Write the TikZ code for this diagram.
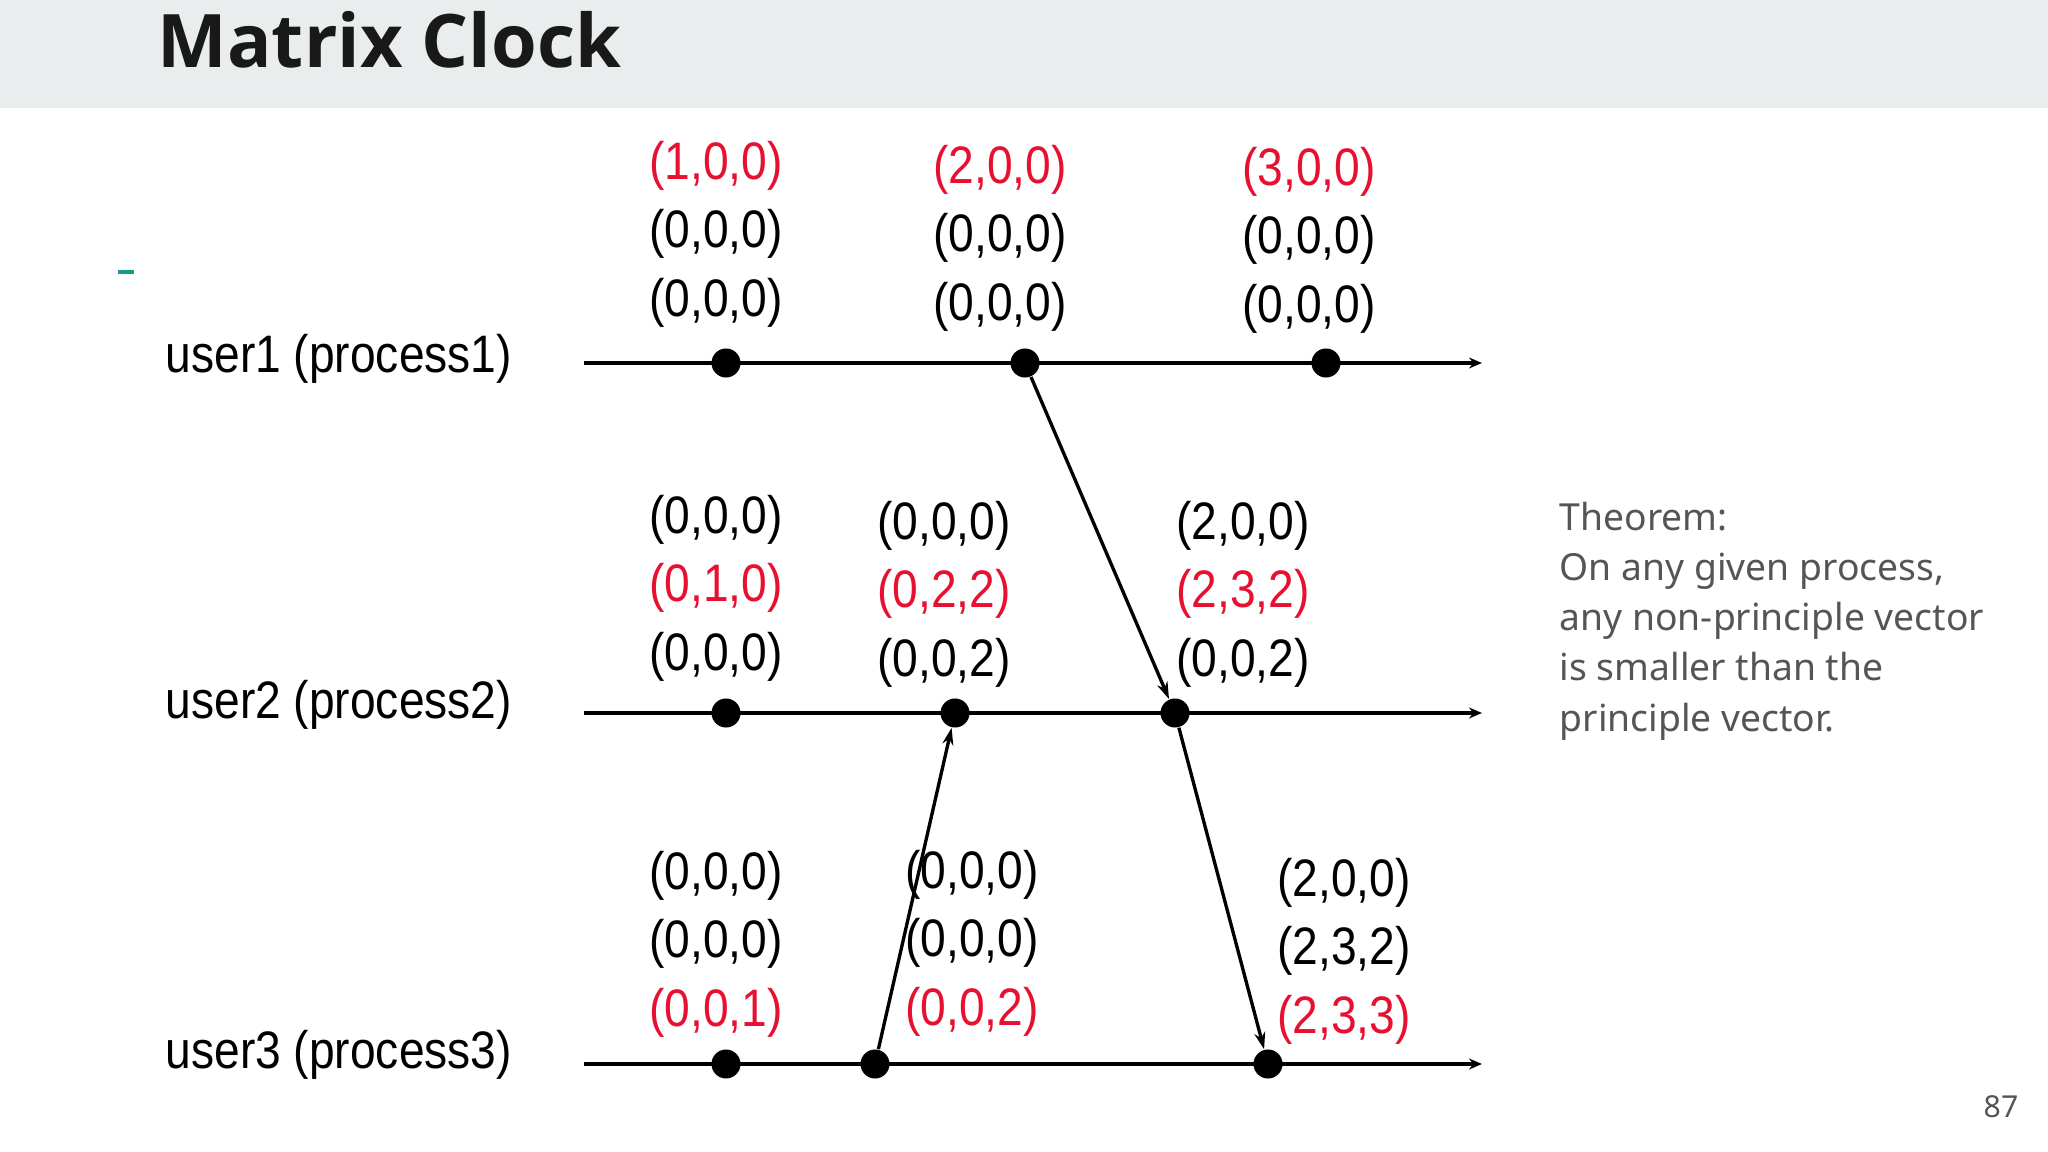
\documentclass[tikz,border=0pt]{standalone}
\usepackage{fontspec}
\usepackage{graphicx}
\setmainfont{Noto Sans}
\newfontfamily\titlefont{Open Sans}
\newfontfamily\clkfont{Liberation Sans}
\usetikzlibrary{arrows.meta,positioning}
\definecolor{hdrgray}{RGB}{233,237,237}
\definecolor{clkred}{RGB}{232,16,48}
\definecolor{txtgray}{RGB}{85,85,85}
\definecolor{dashteal}{RGB}{24,152,136}
\newcommand{\clk}[1]{\scalebox{0.875}[1]{#1}}
\newcommand{\rd}[1]{\textcolor{clkred}{#1}}
\tikzset{
	evt/.style={circle, fill=black, inner sep=0pt, minimum size=0.29cm},
	stack/.style={align=center, inner sep=0pt, font=\clkfont\fontsize{15}{19.5}\selectfont},
	proc/.style={anchor=west, inner sep=0pt, font=\clkfont\fontsize{15}{18}\selectfont},
	timeline/.style={line width=0.9pt, -{Stealth[length=0.13cm,width=0.11cm]}},
	msg/.style={line width=0.95pt, -{Stealth[length=0.17cm,width=0.11cm]}}
}

\begin{document}
\begin{tikzpicture}[x=0.01cm, y=-0.01cm]
		\useasboundingbox (0,0) rectangle (2048,1152);
		\fill[hdrgray] (0,0) rectangle (2048,108);
		\node at (157,68) [anchor=base west, inner sep=0pt, font=\titlefont\bfseries\fontsize{21}{25}\selectfont, text=black!90] (title) {Matrix Clock};
		\draw[dashteal, line width=1.2pt] (118,272) -- (134,272);
		% processes
		\node at (165,359) [proc] (u1) {\clk{user1 (process1)}};
		\node at (165,705) [proc] (u2) {\clk{user2 (process2)}};
		\node at (165,1055) [proc] (u3) {\clk{user3 (process3)}};
		\coordinate (l1s) at (584,363); \coordinate (l1e) at (1482,363);
		\coordinate (l2s) at (584,713); \coordinate (l2e) at (1482,713);
		\coordinate (l3s) at (584,1064); \coordinate (l3e) at (1482,1064);
		\draw [timeline] (l1s) -- (l1e);
		\draw [timeline] (l2s) -- (l2e);
		\draw [timeline] (l3s) -- (l3e);
		% events
		\node at (726,363) [evt] (p11) {};
		\node at (1025,363) [evt] (p12) {};
		\node at (1326,363) [evt] (p13) {};
		\node at (726,713) [evt] (p21) {};
		\node at (955,713) [evt] (p22) {};
		\node at (1175,713) [evt] (p23) {};
		\node at (726,1064) [evt] (p31) {};
		\node at (875,1064) [evt] (p32) {};
		\node at (1268,1064) [evt] (p33) {};
		% clocks
		\node at (716,234) [stack] (c11) {\clk{\rd{(1,0,0)}}\\\clk{(0,0,0)}\\\clk{(0,0,0)}};
		\node at (1000,238) [stack] (c12) {\clk{\rd{(2,0,0)}}\\\clk{(0,0,0)}\\\clk{(0,0,0)}};
		\node at (1309,240) [stack] (c13) {\clk{\rd{(3,0,0)}}\\\clk{(0,0,0)}\\\clk{(0,0,0)}};
		\node at (716,588) [stack] (c21) {\clk{(0,0,0)}\\\clk{\rd{(0,1,0)}}\\\clk{(0,0,0)}};
		\node at (944,594) [stack] (c22) {\clk{(0,0,0)}\\\clk{\rd{(0,2,2)}}\\\clk{(0,0,2)}};
		\node at (1243,594) [stack] (c23) {\clk{(2,0,0)}\\\clk{\rd{(2,3,2)}}\\\clk{(0,0,2)}};
		\node at (716,944) [stack] (c31) {\clk{(0,0,0)}\\\clk{(0,0,0)}\\\clk{\rd{(0,0,1)}}};
		\node at (972,943) [stack] (c32) {\clk{(0,0,0)}\\\clk{(0,0,0)}\\\clk{\rd{(0,0,2)}}};
		\node at (1344,951) [stack] (c33) {\clk{(2,0,0)}\\\clk{(2,3,2)}\\\clk{\rd{(2,3,3)}}};
		% messages
		\draw [msg] (p12) -- (p23);
		\draw [msg] (p32) -- (p22);
		\draw [msg] (p23) -- (p33);
		\node at (1559,501) [anchor=north west, inner sep=0pt, align=left, text=txtgray, font=\fontsize{10.6}{14.3}\selectfont] (thm) {Theorem:\\On any given process,\\any non-principle vector\\is smaller than the\\principle vector.};
		\node at (1983,1117) [anchor=base west, inner sep=0pt, text=txtgray, font=\fontsize{8.6}{10}\selectfont] (pg) {87};
\end{tikzpicture}
\end{document}
